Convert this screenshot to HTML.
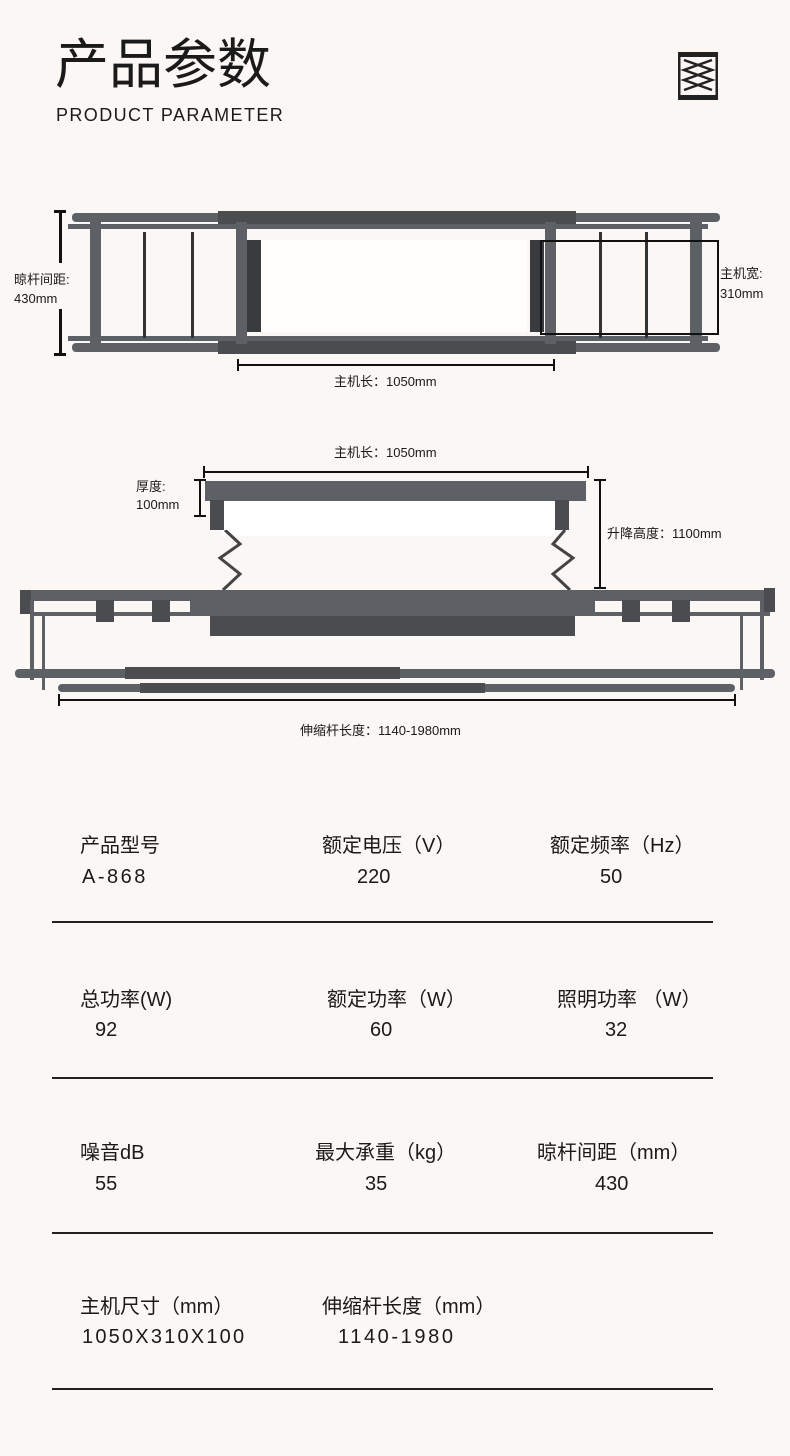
<!DOCTYPE html>
<html><head><meta charset="utf-8"><style>
body{margin:0;background:#faf7f4;}
#p{position:relative;width:790px;height:1456px;overflow:hidden;font-family:"Liberation Sans","Noto Sans CJK SC",sans-serif;color:#1a1a1a;}
.a{position:absolute;}
.b{position:absolute;background:#5d6065;}
.d{position:absolute;background:#4a4c50;}
.k{position:absolute;background:#111;}
.t{position:absolute;font-size:13px;white-space:nowrap;line-height:16px;}
.lb{position:absolute;font-size:20px;white-space:nowrap;}
.ln{position:absolute;left:52px;width:661px;height:2px;background:#222;}
</style></head><body><div id="p">
<div class="a" style="left:55px;top:33px;font-size:54px;line-height:64px;">产品参数</div>
<div class="a" style="left:56px;top:105px;font-size:18px;letter-spacing:1.4px;">PRODUCT PARAMETER</div>
<svg class="a" style="left:678px;top:52px" width="40" height="48"><rect x="1" y="1" width="38" height="46" fill="none" stroke="#222" stroke-width="3"/><rect x="0" y="0" width="40" height="5" fill="#222"/><rect x="0" y="43" width="40" height="5" fill="#222"/><path d="M6 8 L34 18 L6 28 L34 38 M34 8 L6 18 L34 28 L6 38" stroke="#222" stroke-width="2.5" fill="none"/></svg>

<div class="b" style="left:72px;top:213px;width:648px;height:9px;border-radius:4px"></div>
<div class="b" style="left:72px;top:343px;width:648px;height:9px;border-radius:4px"></div>
<div class="d" style="left:218px;top:211px;width:358px;height:13px"></div>
<div class="d" style="left:218px;top:340px;width:358px;height:14px"></div>
<div class="b" style="left:68px;top:224px;width:640px;height:5px"></div>
<div class="b" style="left:68px;top:336px;width:640px;height:5px"></div>
<div class="b" style="left:90px;top:222px;width:11px;height:122px"></div>
<div class="b" style="left:690px;top:222px;width:12px;height:122px"></div>
<div class="b" style="left:236px;top:222px;width:11px;height:122px"></div>
<div class="b" style="left:545px;top:222px;width:11px;height:122px"></div>
<div class="a" style="left:247px;top:240px;width:14px;height:92px;background:#3a3b3e"></div>
<div class="a" style="left:530px;top:240px;width:14px;height:92px;background:#3a3b3e"></div>
<div class="a" style="left:261px;top:240px;width:266px;height:92px;background:#fffefb"></div>
<div class="k" style="left:143px;top:232px;width:3px;height:106px;background:#333"></div>
<div class="k" style="left:191px;top:232px;width:3px;height:106px;background:#333"></div>
<div class="k" style="left:599px;top:232px;width:3px;height:106px;background:#333"></div>
<div class="k" style="left:645px;top:232px;width:3px;height:106px;background:#333"></div>
<div class="a" style="left:540px;top:240px;width:175px;height:91px;border:2px solid #111"></div>
<div class="k" style="left:59px;top:211px;width:3px;height:145px"></div>
<div class="k" style="left:54px;top:210px;width:12px;height:3px"></div>
<div class="k" style="left:54px;top:353px;width:12px;height:3px"></div>
<div class="a" style="left:8px;top:263px;width:80px;height:46px;background:#faf7f4"></div>
<div class="t" style="left:14px;top:272px">晾杆间距:</div>
<div class="t" style="left:14px;top:291px">430mm</div>
<div class="t" style="left:720px;top:266px">主机宽:</div>
<div class="t" style="left:720px;top:286px">310mm</div>
<div class="k" style="left:237px;top:364px;width:318px;height:2px"></div>
<div class="k" style="left:237px;top:359px;width:2px;height:12px"></div>
<div class="k" style="left:553px;top:359px;width:2px;height:12px"></div>
<div class="t" style="left:334px;top:374px">主机长：1050mm</div>

<div class="t" style="left:334px;top:445px">主机长：1050mm</div>
<div class="k" style="left:203px;top:471px;width:385px;height:2px"></div>
<div class="k" style="left:203px;top:466px;width:2px;height:12px"></div>
<div class="k" style="left:587px;top:466px;width:2px;height:12px"></div>
<div class="t" style="left:136px;top:479px">厚度:</div>
<div class="t" style="left:136px;top:497px">100mm</div>
<div class="k" style="left:199px;top:480px;width:2px;height:37px"></div>
<div class="k" style="left:194px;top:479px;width:12px;height:2px"></div>
<div class="k" style="left:194px;top:515px;width:12px;height:2px"></div>
<div class="k" style="left:599px;top:480px;width:2px;height:108px"></div>
<div class="k" style="left:594px;top:479px;width:12px;height:2px"></div>
<div class="k" style="left:594px;top:587px;width:12px;height:2px"></div>
<div class="t" style="left:607px;top:526px">升降高度：1100mm</div>
<div class="b" style="left:205px;top:481px;width:381px;height:20px"></div>
<div class="a" style="left:222px;top:501px;width:333px;height:35px;background:#fff"></div>
<div class="d" style="left:210px;top:500px;width:14px;height:30px"></div>
<div class="d" style="left:555px;top:500px;width:14px;height:30px"></div>
<svg class="a" style="left:205px;top:530px" width="380" height="62"><path d="M20 0 L35 14 L15 28 L35 44 L18 60 M360 0 L348 14 L368 28 L348 44 L365 60" stroke="#444" stroke-width="3" fill="none"/></svg>
<div class="b" style="left:20px;top:590px;width:755px;height:11px"></div>
<div class="d" style="left:20px;top:590px;width:11px;height:24px"></div>
<div class="d" style="left:764px;top:588px;width:11px;height:24px"></div>
<div class="b" style="left:190px;top:591px;width:405px;height:22px"></div>
<div class="d" style="left:210px;top:613px;width:365px;height:23px"></div>
<div class="b" style="left:30px;top:612px;width:740px;height:4px"></div>
<div class="d" style="left:96px;top:600px;width:18px;height:22px"></div>
<div class="d" style="left:152px;top:600px;width:18px;height:22px"></div>
<div class="d" style="left:622px;top:600px;width:18px;height:22px"></div>
<div class="d" style="left:672px;top:600px;width:18px;height:22px"></div>
<div class="b" style="left:30px;top:600px;width:4px;height:80px"></div>
<div class="b" style="left:760px;top:600px;width:4px;height:80px"></div>
<div class="b" style="left:42px;top:615px;width:3px;height:75px"></div>
<div class="b" style="left:740px;top:615px;width:3px;height:75px"></div>
<div class="b" style="left:15px;top:669px;width:760px;height:9px;border-radius:4px"></div>
<div class="d" style="left:125px;top:667px;width:275px;height:12px"></div>
<div class="b" style="left:58px;top:684px;width:677px;height:8px;border-radius:4px"></div>
<div class="d" style="left:140px;top:683px;width:345px;height:10px"></div>
<div class="k" style="left:58px;top:699px;width:678px;height:2px"></div>
<div class="k" style="left:58px;top:694px;width:2px;height:12px"></div>
<div class="k" style="left:734px;top:694px;width:2px;height:12px"></div>
<div class="t" style="left:300px;top:723px">伸缩杆长度：1140-1980mm</div>

<div class="lb" style="left:80px;top:829px">产品型号</div>
<div class="lb" style="left:322px;top:829px">额定电压（V）</div>
<div class="lb" style="left:550px;top:829px">额定频率（Hz）</div>
<div class="lb" style="left:82px;top:866px;letter-spacing:2.5px">A-868</div>
<div class="lb" style="left:357px;top:866px">220</div>
<div class="lb" style="left:600px;top:866px">50</div>
<div class="ln" style="top:921px"></div>
<div class="lb" style="left:80px;top:983px">总功率(W)</div>
<div class="lb" style="left:327px;top:983px">额定功率（W）</div>
<div class="lb" style="left:557px;top:983px">照明功率 （W）</div>
<div class="lb" style="left:95px;top:1019px">92</div>
<div class="lb" style="left:370px;top:1019px">60</div>
<div class="lb" style="left:605px;top:1019px">32</div>
<div class="ln" style="top:1077px"></div>
<div class="lb" style="left:80px;top:1136px">噪音dB</div>
<div class="lb" style="left:315px;top:1136px">最大承重（kg）</div>
<div class="lb" style="left:537px;top:1136px">晾杆间距（mm）</div>
<div class="lb" style="left:95px;top:1173px">55</div>
<div class="lb" style="left:365px;top:1173px">35</div>
<div class="lb" style="left:595px;top:1173px">430</div>
<div class="ln" style="top:1232px"></div>
<div class="lb" style="left:80px;top:1290px">主机尺寸（mm）</div>
<div class="lb" style="left:322px;top:1290px">伸缩杆长度（mm）</div>
<div class="lb" style="left:82px;top:1326px;letter-spacing:2.2px">1050X310X100</div>
<div class="lb" style="left:338px;top:1326px;letter-spacing:2.6px">1140-1980</div>
<div class="ln" style="top:1388px"></div>
</div></body></html>
